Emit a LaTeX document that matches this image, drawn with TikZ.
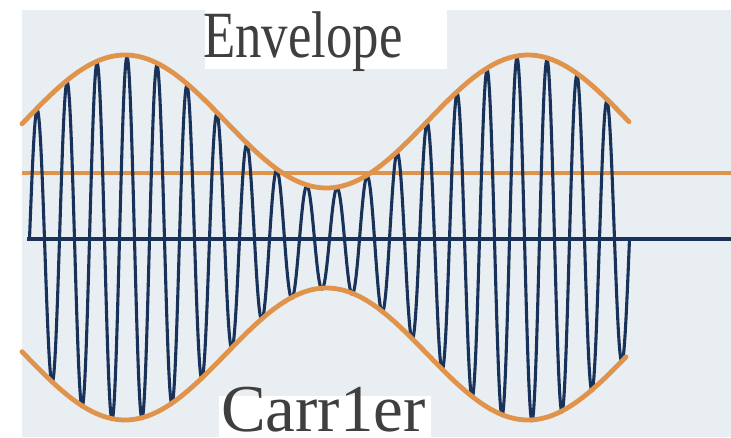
\documentclass[tikz,border=0pt]{standalone}
\usepackage{fontspec}
\setmainfont{Liberation Serif}
\definecolor{bgc}{HTML}{E9EEF2}
\definecolor{envc}{HTML}{E0934A}
\definecolor{carc}{HTML}{19325A}
\definecolor{txtc}{HTML}{3F3F3F}
\begin{document}
\begin{tikzpicture}[x=1pt,y=-1pt,
  envline/.style={envc, line width=4.8pt, line cap=round},
  carline/.style={carc, line width=3.1pt, line join=round},
  lbl/.style={inner sep=0pt, text=txtc, anchor=base west},
  whitebox/.style={fill=white, draw=none}]
\useasboundingbox (0,0) rectangle (731,437);
\fill[white] (0,0) rectangle (731,437);
\fill[bgc] (22,10) rectangle (731,437);
% reference lines
\coordinate (ol) at (22,173);
\coordinate (or) at (731,173);
\draw[envc, line width=4.8pt] (ol) -- (or);
\coordinate (bl) at (27,239);
\coordinate (br) at (731,239);
\draw[carline] (bl) -- (br);
% carrier
\draw[carline] plot[domain=29.5:629.5, samples=1201]
  (\x, {239 - (116 + 66*cos(0.8933*(\x-125)))*sin(12*(\x-29.5))});
% envelopes
\draw[envline] plot[domain=22:629, samples=200]
  (\x, {121.5 - 66.5*cos(0.8933*(\x-125))});
\draw[envline] plot[domain=22:626, samples=200]
  (\x, {354 + 66*cos(0.8933*(\x-125))});
% labels
\fill[whitebox] (205,0) rectangle (447,69);
\fill[whitebox] (219,396) rectangle (431,437);
\node[lbl] (envlabel) at (203,57) {\fontsize{66}{66}\selectfont\scalebox{0.8}[1]{Envelope}};
\node[lbl] (carlabel) at (221,431) {\fontsize{67}{67}\selectfont Carr1er};
\end{tikzpicture}
\end{document}
